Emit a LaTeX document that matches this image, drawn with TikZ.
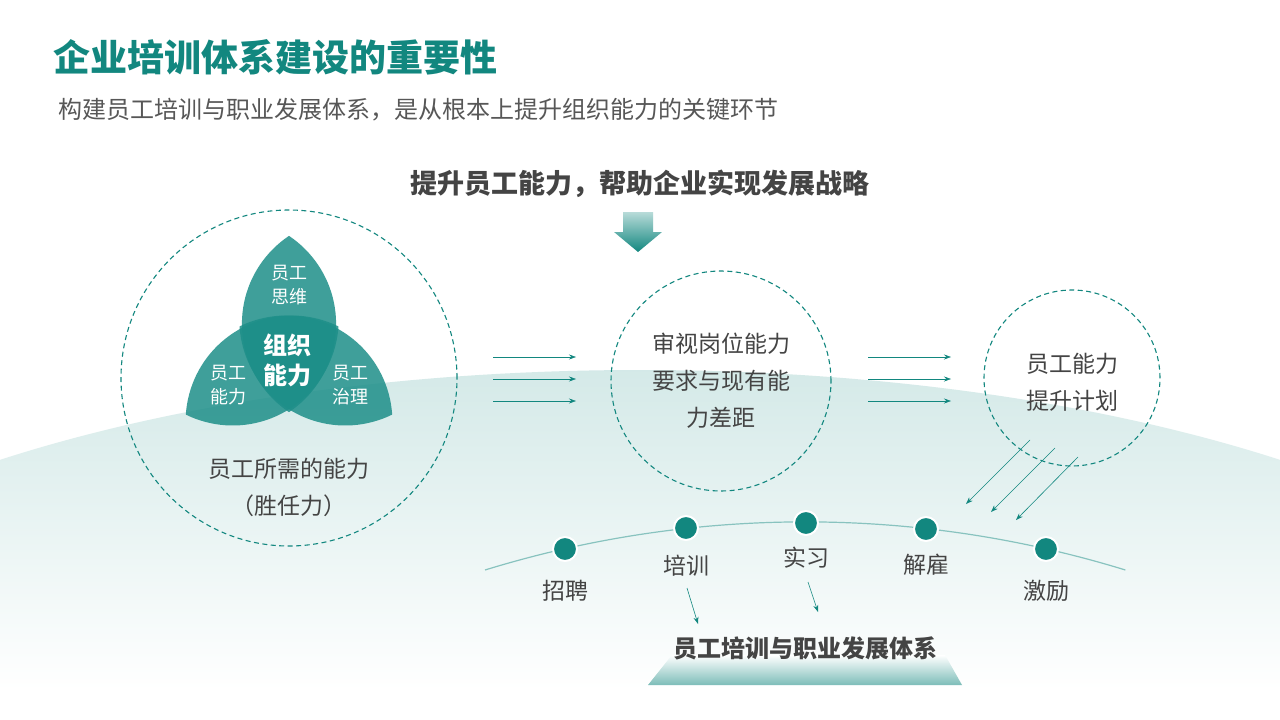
\documentclass[tikz,border=0pt]{standalone}
\usepackage{fontspec}
\setmainfont{Noto Sans CJK SC}
\usetikzlibrary{arrows.meta}
\definecolor{tl}{HTML}{12877F}
\definecolor{pet}{HTML}{1E8F89}
\definecolor{tx}{HTML}{444444}
\begin{document}
\begin{tikzpicture}[x=1pt,y=-1pt,
  dc/.style={draw=tl,dash pattern=on 5pt off 3.5pt,line width=1.1pt},
  ar/.style={draw=tl,line width=0.6pt,-{Stealth[length=7pt,width=5pt]}},
  t/.style={text=tx,font=\fontsize{23}{37}\selectfont,align=center},
  w/.style={text=white,font=\fontsize{18}{21}\selectfont},
  dot/.style={circle,fill=tl,draw=white,line width=2pt,minimum size=24pt,inner sep=0pt},
  petal/.style={fill=pet,fill opacity=0.85}]
\useasboundingbox (0,0) rectangle (1280,720);
\fill[white] (0,0) rectangle (1280,720);
\begin{scope}
\clip (640,758) ellipse [x radius=1000,y radius=388];
\shade[top color=tl!18,bottom color=white] (0,370) rectangle (1280,690);
\fill[white] (0,689) rectangle (1280,720);
\end{scope}
% title
\node[anchor=west,text=tl,font=\fontsize{37}{40}\selectfont\bfseries] (title) at (50,57) {企业培训体系建设的重要性};
\node[anchor=west,text=tx!90,font=\fontsize{24}{28}\selectfont] (sub) at (55,110) {构建员工培训与职业发展体系，是从根本上提升组织能力的关键环节};
\node[text=tx,font=\fontsize{27}{30}\selectfont\bfseries] (head) at (640,184) {提升员工能力，帮助企业实现发展战略};
% block arrow
\shade[top color=tl!30,bottom color=tl] (623,212) -- (653,212) -- (653,232) -- (662,232) -- (638,252) -- (614,232) -- (623,232) -- cycle;
% circles
\node[circle,dc,minimum size=336pt] (c1) at (289,378) {};
\node[circle,dc,minimum size=220pt] (c2) at (721,381) {};
\node[circle,dc,minimum size=176pt] (c3) at (1072,378) {};
% petals
\foreach \r in {0,120,240}{
\begin{scope}[shift={(289,355)},rotate=\r]
\begin{scope}
\clip (58.9,-31) circle [radius=106];
\fill[petal] (-58.9,-31) circle [radius=106];
\end{scope}
\end{scope}}
\node[w] (p1a) at (289,273) {员工};
\node[w] (p1b) at (289,297) {思维};
\node[w] (p2a) at (228,373) {员工};
\node[w] (p2b) at (228,397) {能力};
\node[w] (p3a) at (350,373) {员工};
\node[w] (p3b) at (350,397) {治理};
\node[text=white,font=\fontsize{24}{30}\selectfont\bfseries,align=center] (core) at (287,360) {组织\\能力};
\node[t] (c1t) at (289,487) {员工所需的能力\\（胜任力）};
\node[t,text width=160pt] (c2t) at (721,381) {审视岗位能力\\要求与现有能\\力差距};
\node[t] (c3t) at (1072,382) {员工能力\\提升计划};
% arrows
\foreach \y in {357,379,401}{
\coordinate (a\y) at (493,\y); \coordinate (b\y) at (576,\y);
\draw[ar] (a\y) -- (b\y);
\coordinate (d\y) at (868,\y); \coordinate (e\y) at (951,\y);
\draw[ar] (d\y) -- (e\y);}
\coordinate (f1) at (1030,440); \coordinate (g1) at (966,504);
\coordinate (f2) at (1055,448); \coordinate (g2) at (991,512);
\coordinate (f3) at (1078,457); \coordinate (g3) at (1016,520);
\foreach \i in {1,2,3}{\draw[ar] (f\i) -- (g\i);}
% arc
\draw[tl!50,line width=1.2pt] (485,570) arc[start angle=-107.1,end angle=-72.9,radius=1089];
\node[dot] (n1) at (565,549) {};
\node[dot] (n2) at (686,528) {};
\node[dot] (n3) at (806,523) {};
\node[dot] (n4) at (926,529) {};
\node[dot] (n5) at (1046,549) {};
\node[t] (l1) at (565,591) {招聘};
\node[t] (l2) at (686,566) {培训};
\node[t] (l3) at (806,558) {实习};
\node[t] (l4) at (926,565) {解雇};
\node[t] (l5) at (1046,591) {激励};
\coordinate (h1) at (687,588); \coordinate (k1) at (698,624);
\coordinate (h2) at (808,582); \coordinate (k2) at (818,612);
\draw[ar] (h1) -- (k1);
\draw[ar] (h2) -- (k2);
% base
\shade[top color=white,bottom color=tl!55] (672,655) -- (945,655) -- (962,685) -- (648,685) -- cycle;
\node[text=tx,font=\fontsize{24}{26}\selectfont\bfseries] (base) at (805,648) {员工培训与职业发展体系};
\end{tikzpicture}
\end{document}
